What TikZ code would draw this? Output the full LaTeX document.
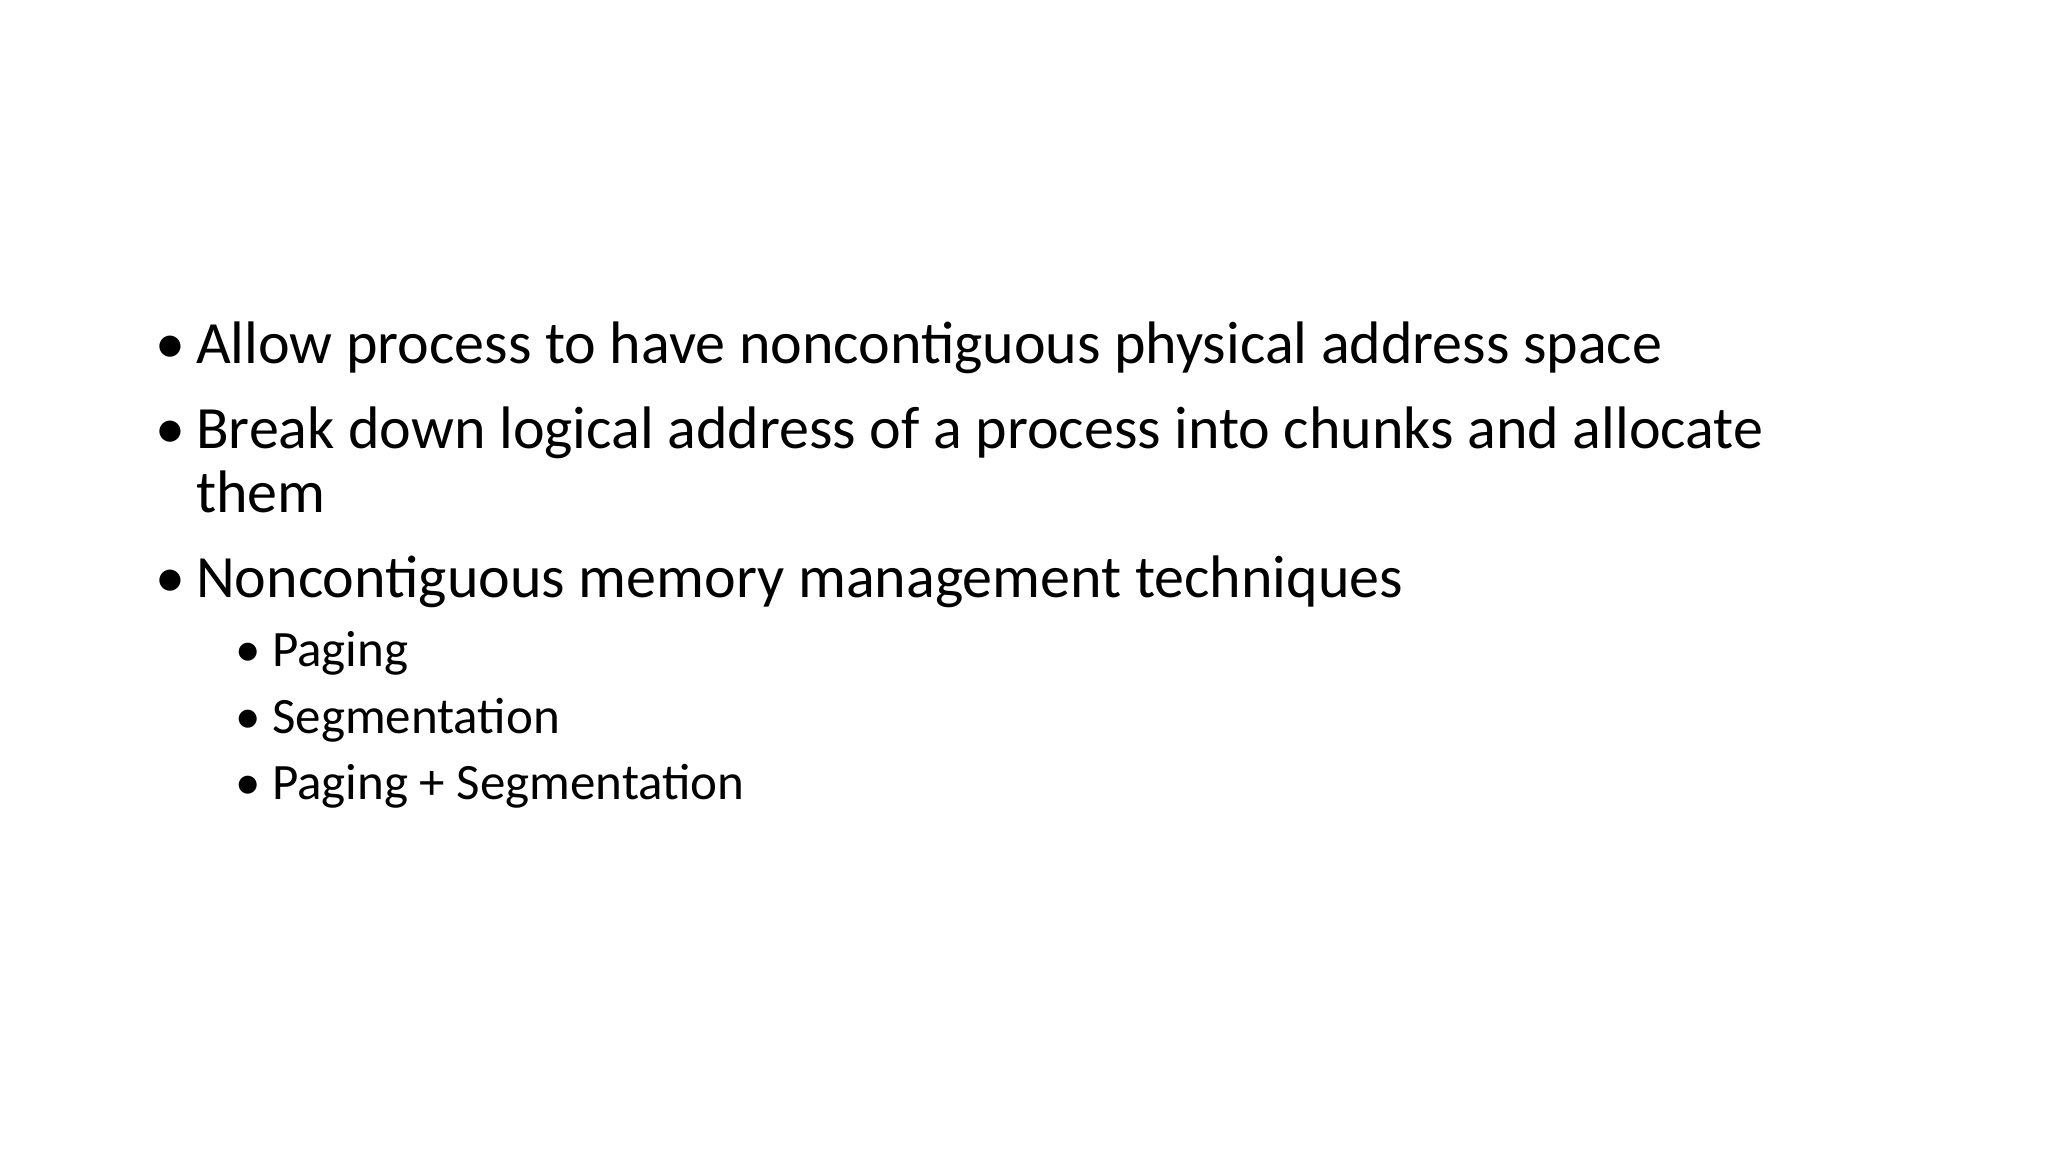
\documentclass[tikz,border=0pt]{standalone}
\usepackage{fontspec}
\setmainfont{Carlito}
\begin{document}
\begin{tikzpicture}[x=1pt,y=-1pt,
  main/.style={anchor=base west,inner sep=0pt,font=\fontsize{60}{72}\selectfont},
  sub/.style={anchor=base west,inner sep=0pt,font=\fontsize{51}{61}\selectfont}]
\useasboundingbox[fill=white] (0,0) rectangle (2048,1152);
\node[main] (b1) at (155,363) {•};
\node[main] (t1) at (196,363) {Allow process to have noncontiguous physical address space};
\node[main] (b2) at (155,448) {•};
\node[main] (t2) at (196,448) {Break down logical address of a process into chunks and allocate};
\node[main] (t2b) at (196,512) {them};
\node[main] (b3) at (155,597) {•};
\node[main] (t3) at (196,597) {Noncontiguous memory management techniques};
\node[sub] (s1b) at (235,666) {•};
\node[sub] (s1) at (272,666) {Paging};
\node[sub] (s2b) at (235,733) {•};
\node[sub] (s2) at (272,733) {Segmentation};
\node[sub] (s3b) at (235,799) {•};
\node[sub] (s3) at (272,799) {Paging + Segmentation};
\end{tikzpicture}
\end{document}
